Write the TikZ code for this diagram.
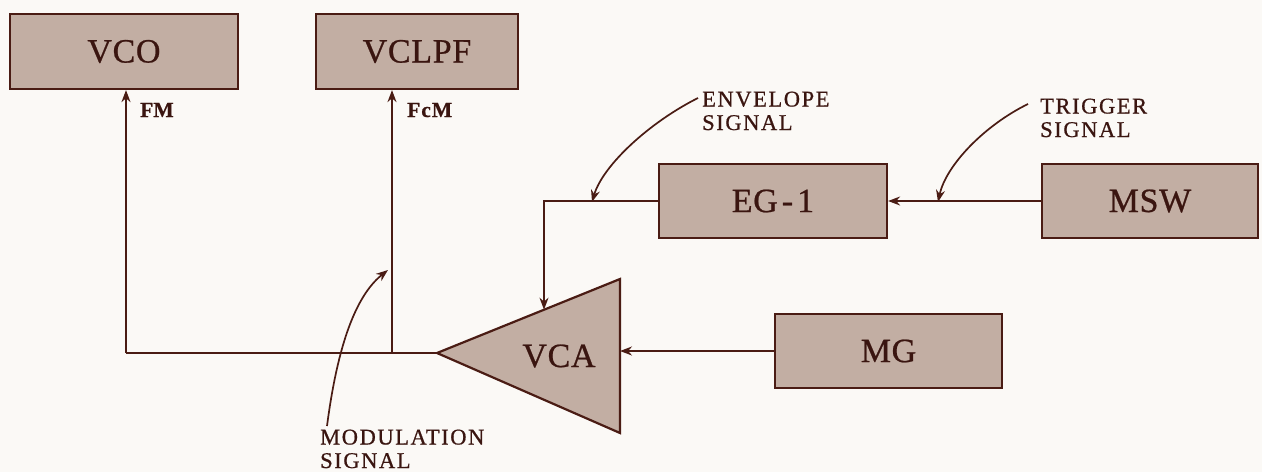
\documentclass[tikz,border=0pt]{standalone}
\usepackage{fontspec}
\setmainfont{Liberation Serif}[FakeBold=0.7]
\usetikzlibrary{arrows.meta}
\definecolor{paper}{HTML}{FBF9F6}
\definecolor{boxfill}{HTML}{C2AEA3}
\definecolor{ink}{HTML}{4A1C14}
\definecolor{txt}{HTML}{3A1510}
\tikzset{
  blk/.style={draw=ink, line width=2.2pt, fill=boxfill, rectangle, inner sep=0pt,
              text=txt, font=\fontsize{34}{34}\selectfont\addfontfeature{LetterSpace=2}},
  wire/.style={draw=ink, line width=1.8pt},
  sig/.style={wire, -{Stealth[length=12pt,width=9pt]}},
  pointer/.style={draw=ink, line width=1.7pt, -{Stealth[length=12pt,width=9pt]}},
  note/.style={text=txt, anchor=base west, align=left, inner sep=0pt,
               font=\fontsize{22.5}{23.5}\selectfont\addfontfeature{LetterSpace=7}},
  tag/.style={text=txt, anchor=base west, inner sep=0pt,
              font=\fontsize{21.5}{21.5}\selectfont\bfseries}
}
\begin{document}
\begin{tikzpicture}[x=1pt, y=-1pt]
  \fill[paper] (0,0) rectangle (1262,472);
  \useasboundingbox (0,0) rectangle (1262,472);

  % blocks
  \node[blk, minimum width=228pt, minimum height=75pt] (vco)   at (124,51.5)  {VCO};
  \node[blk, minimum width=202pt, minimum height=75pt] (vclpf) at (417,51.5)  {VCLPF};
  \node[blk, minimum width=228pt, minimum height=74pt] (eg)    at (773,201)   {EG\kern4pt-\kern4pt1};
  \node[blk, minimum width=216pt, minimum height=74pt] (msw)   at (1150,201)  {MSW};
  \node[blk, minimum width=227pt, minimum height=74pt] (mg)    at (888.5,351) {MG};

  % VCA triangle pointing left
  \coordinate (vcatip) at (437,353);
  \coordinate (vcatop) at (620,279);
  \coordinate (vcabot) at (620,433);
  \filldraw[fill=boxfill, draw=ink, line width=2.2pt, line join=miter]
    (vcatip) -- (vcatop) -- (vcabot) -- cycle;
  \node[text=txt, font=\fontsize{34}{34}\selectfont\addfontfeature{LetterSpace=2}] (vca) at (559,356) {VCA};
  \coordinate (vcain)  at (544,309.7);
  \coordinate (vcaside) at (620,351);

  % junctions on the output line
  \coordinate (jfm)  at (126,353);
  \coordinate (jfcm) at (392,353);

  % signal paths
  \draw[sig] (msw.west) -- (eg.east);
  \draw[sig] (eg.west) -| (vcain);
  \draw[sig] (mg.west) -- (vcaside);
  \draw[wire] (vcatip) -- (jfm);
  \draw[sig] (jfm) -- (jfm |- vco.south);
  \draw[sig] (jfcm) -- (jfcm |- vclpf.south);

  % input labels
  \node[tag] (fm)  at (140,117) {FM};
  \node[tag] (fcm) at (407,117) {F\kern1pt c\kern1pt M};

  % annotation labels with pointers (base = last line)
  \node[note] (env) at (702,130) {ENVELOPE\\SIGNAL};
  \node[note] (trg) at (1040,137) {TRIGGER\\SIGNAL};
  \node[note] (mod) at (320,468) {MODULATION\\SIGNAL};

  \coordinate (envfrom) at (698,98);
  \coordinate (envto)   at (592,202);
  \coordinate (trgfrom) at (1028,104);
  \coordinate (trgto)   at (938,202);
  \coordinate (modfrom) at (327,426);
  \coordinate (modto)   at (388,270);

  \draw[pointer] (envfrom) .. controls (650,122) and (603,165) .. (envto);
  \draw[pointer] (trgfrom) .. controls (985,125) and (946,165) .. (trgto);
  \draw[pointer] (modfrom) .. controls (335,365) and (350,300) .. (modto);
\end{tikzpicture}
\end{document}
